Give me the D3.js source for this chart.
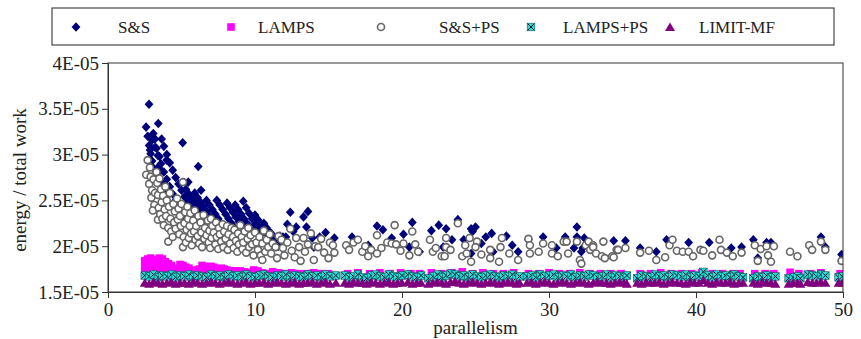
<!DOCTYPE html>
<html>
<head>
<meta charset="utf-8">
<script src="https://cdn.jsdelivr.net/npm/d3@7"></script>
<style>
body { margin: 0; background: #fff; }
text { font-family: "Liberation Serif", "Times New Roman", serif; fill: #222; }
</style>
</head>
<body>
<script>
// values are in units of 1E-06 (energy / total work)
var seriesNames = ["S&S", "LAMPS", "S&S+PS", "LAMPS+PS", "LIMIT-MF"];
var xTicks = [0, 10, 20, 30, 40, 50];
var yTicks = [15, 20, 25, 30, 35, 40];

// S&S (navy diamonds), [parallelism, value]
var ssPoints = [
    [2.59,33.0],[2.79,35.5],[2.7,32.0],[2.8,31.0],[2.86,30.5],[2.9,30.1],[3.0,29.3],[3.08,32.3],[3.1,28.5],[3.2,31.7],[3.2,27.8],[3.42,33.4],
    [3.0,31.6],[3.2,30.8],[3.4,29.9],[3.6,29.0],[3.8,28.1],[4.0,27.3],[4.2,26.5],[4.4,25.7],[4.6,25.0],[4.8,24.3],[5.0,23.7],[5.2,23.2],
    [3.65,31.7],[3.8,30.9],[4.0,30.0],[4.2,29.1],[4.4,28.3],[4.6,27.5],[4.8,26.8],[5.0,26.1],[5.2,25.4],[5.4,24.8],[5.6,24.2],[5.8,23.7],[6.0,23.2],
    [3.3,30.7],[3.5,29.8],[3.99,29.4],[3.4,28.6],[3.6,28.3],[3.7,27.0],[3.9,26.3],[4.1,25.6],
    [5.08,31.3],[5.46,27.0],[6.14,28.7],[6.33,26.1],
    [5.3,26.2],[5.5,25.7],[5.7,25.2],[5.9,24.7],[6.1,24.2],[6.3,23.7],[6.5,23.2],[6.7,22.7],
    [5.9,25.8],[6.1,25.3],[6.3,24.8],[6.5,24.3],[6.7,23.8],[6.9,23.3],[7.1,22.8],[7.3,22.3],
    [6.7,25.0],[6.9,24.5],[7.1,24.0],[7.3,23.5],[7.5,23.0],[7.7,22.5],[7.9,22.0],
    [7.4,25.0],[7.6,24.5],[7.8,24.0],[8.0,23.5],[8.2,23.0],[8.4,22.5],[8.6,22.0],
    [8.1,24.7],[8.3,24.2],[8.5,23.7],[8.7,23.2],[8.9,22.7],[9.1,22.2],[9.3,21.7],
    [8.65,24.5],[8.85,24.0],[9.05,23.5],[9.25,23.0],[9.45,22.5],[9.65,22.0],[9.85,21.5],
    [9.2,24.9],[9.4,24.2],[9.6,23.6],[9.8,23.0],[10.0,22.4],[10.2,21.8],[10.4,21.3],
    [10.0,23.4],[10.2,22.9],[10.4,22.4],[10.6,21.9],[10.8,21.4],[11.0,20.9],
    [10.6,22.5],[10.8,22.0],[11.0,21.5],[11.2,21.0],[11.4,20.5],[11.6,20.0],
    [11.1,21.4],[11.7,21.1],[11.9,21.0],[12.1,21.0],[12.2,22.4],[12.6,21.6],
    [12.4,23.7],[13.3,23.2],[13.6,23.8],[12.8,22.1],[13.5,22.1],[13.9,20.9],[14.4,21.0],[14.8,21.5],[15.4,20.9],[14.0,19.9],
    [16.6,21.0],[17.7,20.1],[18.3,22.2],[18.7,21.8],[19.3,20.9],[20.1,21.3],[20.7,22.6],[20.5,19.9],[21.2,19.4],
    [22.0,21.7],[22.5,22.3],[22.8,19.9],[23.0,21.9],[23.8,22.9],[23.4,20.7],[24.2,20.7],[24.7,21.9],[25.0,22.1],[24.8,21.6],
    [24.7,19.2],[25.4,20.3],[25.7,21.0],[26.1,21.4],[26.2,19.4],[27.1,21.1],[27.5,20.1],[27.9,19.4],[28.6,20.7],[29.6,21.0],
    [30.5,19.8],[31.1,21.0],[31.7,19.8],[31.9,22.1],[31.9,21.0],[32.3,19.8],[32.4,20.9],[32.2,19.4],[34.4,20.6],[35.2,20.6],
    [36.2,19.8],[37.3,19.4],[38.0,20.7],[39.5,20.4],[40.9,20.4],[42.4,19.8],[43.1,19.9],[43.9,20.7],[44.2,18.7],[44.8,20.4],
    [45.1,20.4],[48.5,21.0],[48.8,19.9],[49.9,19.1]
];

// LAMPS (magenta squares)
var lampsPoints = [
    [2.5,18.4],[2.5,17.8],[2.5,17.3],[2.7,18.6],[2.7,18.0],[2.7,17.4],[2.9,18.7],[2.9,18.1],[2.9,17.5],
    [3.1,18.5],[3.1,17.9],[3.1,17.3],[3.3,18.3],[3.3,17.7],[3.5,18.7],[3.5,18.1],[3.5,17.5],[3.7,18.6],[3.7,18.0],[3.7,17.4],
    [3.9,18.3],[3.9,17.7],[4.1,18.1],[4.1,17.5],[4.3,17.9],[4.3,17.4],[4.5,17.6],[4.7,17.5],[4.9,18.0],[4.9,17.4],
    [5.1,17.9],[5.1,17.4],[5.3,17.7],[5.5,17.6],[5.7,17.4],[5.9,17.3],[6.2,17.5],[6.4,17.9],[6.4,17.4],[6.6,17.8],[6.6,17.3],
    [6.8,17.6],[7.0,17.8],[7.0,17.3],[7.2,17.7],[7.4,17.5],[7.7,17.6],[7.9,17.5],[8.1,17.4],[8.4,17.3],[8.7,17.3],
    [9.0,17.3],[9.3,17.2],[9.6,17.1],[9.9,17.4],[10.2,17.3],[10.5,17.1],[10.8,17.0],[11.2,17.2],[11.6,17.1],[12.0,17.0],
    [12.5,17.1],[13.0,17.0],[13.5,17.0],[14.0,17.1],[14.5,17.0],[15.0,17.0],
    [16.3,17.0],[17.0,17.1],[17.8,17.0],[18.5,17.1],[19.2,17.0],[19.9,17.1],[20.6,17.0],[21.2,17.0],[22.0,17.1],[22.7,17.0],
    [23.4,17.1],[24.1,17.2],[24.8,17.0],[25.5,17.1],[26.2,17.0],[26.9,17.0],[27.6,17.1],[28.6,17.0],[29.3,17.0],[30.0,17.1],
    [30.7,17.0],[31.4,17.0],[32.1,17.1],[32.8,17.0],[33.5,17.0],[34.2,17.0],[34.9,17.0],[36.2,17.0],[36.9,17.0],[37.6,17.1],
    [38.3,17.0],[39.0,17.0],[39.7,17.0],[40.4,17.1],[41.1,17.0],[41.8,17.0],[42.5,17.0],[43.0,17.0],[44.0,17.0],[44.7,17.0],
    [45.3,17.0],[46.4,17.15],[47.0,17.0],[47.8,17.0],[48.5,17.1],[49.8,17.0]
];

// S&S+PS (open circles)
var ssPsPoints = [
    [2.6,27.8],[2.7,29.4],[2.85,28.6],[2.9,27.6],[2.8,26.8],[3.0,26.1],[2.95,25.3],[3.1,27.3],[3.15,24.5],[3.2,25.8],[3.05,23.9],
    [3.3,28.1],[3.35,26.9],[3.4,25.6],[3.45,24.2],[3.4,22.9],[3.5,27.4],[3.55,23.5],[3.6,26.2],[3.65,24.8],[3.7,23.0],[3.75,25.5],
    [3.8,22.3],[3.85,24.0],[3.9,26.5],[3.95,23.3],[4.0,25.0],
    [4.1,20.5],[4.1,22.0],[4.15,24.3],[4.2,25.8],[4.25,23.0],[4.3,21.6],[4.4,21.0],[4.45,24.6],[4.5,22.6],[4.55,23.8],[4.6,21.9],
    [4.7,25.2],[4.75,22.9],[4.8,24.1],[4.85,21.3],[4.9,23.3],[4.95,22.2],[5.0,24.6],
    [5.1,19.9],[5.1,27.0],[5.15,21.0],[5.2,22.5],[5.25,23.7],[5.3,20.4],[5.35,21.8],[5.4,24.3],[5.45,23.0],[5.5,20.9],[5.55,22.2],
    [5.6,23.6],[5.65,21.4],[5.7,20.1],[5.8,22.8],[5.85,21.6],[5.9,23.9],[5.95,20.7],
    [6.0,22.2],[6.1,21.1],[6.15,23.3],[6.2,20.3],[6.3,22.6],[6.35,21.5],[6.4,19.9],[6.5,23.4],[6.55,20.8],[6.6,22.0],[6.7,21.2],
    [6.8,22.8],[6.85,20.4],[6.9,21.7],[6.95,19.8],
    [7.0,23.0],[7.05,20.9],[7.1,22.2],[7.2,21.5],[7.3,20.2],[7.35,22.6],[7.4,21.0],[7.5,19.7],[7.55,22.0],[7.6,21.3],[7.7,20.5],
    [7.8,22.4],[7.85,19.9],[7.9,21.6],
    [8.0,20.8],[8.1,22.2],[8.15,19.6],[8.2,21.3],[8.3,20.3],[8.4,22.0],[8.5,21.0],[8.55,19.8],[8.6,21.8],[8.7,20.6],[8.8,19.4],
    [8.85,21.4],[8.9,20.2],[9.0,22.3],
    [9.1,21.0],[9.15,19.7],[9.2,20.4],[9.3,21.6],[9.4,19.3],[9.5,20.8],[9.55,22.0],[9.6,19.9],[9.7,21.2],[9.8,20.2],[9.9,19.0],[10.0,21.5],
    [10.1,20.4],[10.2,19.6],[10.3,21.0],[10.4,19.0],[10.5,18.5],[10.5,20.3],[10.6,21.7],[10.7,19.4],[10.8,20.7],[10.9,19.9],[11.0,21.3],
    [11.1,19.2],[11.2,20.3],[11.4,19.9],[11.5,18.7],[11.6,21.1],[11.8,20.7],[11.9,19.8],[12.0,19.0],[12.2,20.4],[12.4,21.9],
    [12.5,19.5],[12.7,18.8],[12.8,20.9],[13.0,19.9],[13.1,18.4],[13.3,20.9],[13.4,19.4],[13.6,20.2],[13.8,21.4],[14.0,18.5],
    [14.1,20.0],[14.3,19.9],[14.5,20.8],[14.7,19.3],[15.0,18.7],[15.1,20.4],[15.3,20.1],[15.4,19.3],
    [16.2,20.1],[16.4,19.6],[16.7,20.4],[17.0,20.7],[17.3,19.4],[17.5,20.0],[17.7,18.9],[17.9,19.6],[18.3,21.2],[18.3,19.2],
    [18.6,19.8],[19.0,20.4],[19.3,20.3],[19.5,22.3],[19.6,20.2],[19.9,19.5],[20.1,20.3],[20.5,19.0],[20.7,21.6],[20.9,20.2],
    [21.1,19.4],[21.9,20.7],[22.1,19.4],[22.3,19.8],[22.7,18.9],[23.0,19.9],[23.0,20.9],[23.8,22.5],[23.3,19.6],[22.9,18.9],
    [24.3,20.1],[24.1,18.9],[24.4,19.2],[24.7,18.3],[24.6,20.9],[25.1,20.5],[25.0,19.9],[25.4,19.1],[26.0,19.6],[26.0,18.7],
    [26.6,18.3],[26.8,20.9],[26.7,19.9],[27.3,19.2],[27.9,18.5],[28.6,20.8],[28.7,20.1],[28.7,19.2],[29.3,19.4],[29.6,20.3],
    [30.2,20.1],[30.2,19.2],[30.6,18.9],[31.0,20.5],[31.2,20.5],[31.3,19.2],[31.9,20.5],[32.1,18.5],[32.2,18.1],[32.5,20.1],
    [32.7,20.5],[32.8,19.6],[33.0,20.1],[33.0,19.9],[33.2,19.2],[33.7,20.5],[33.6,18.9],[33.8,18.7],[34.3,18.9],[34.4,18.8],
    [34.6,19.6],[34.7,19.6],[35.2,19.8],[36.2,19.3],[36.8,19.5],[37.3,18.5],[37.9,18.8],[38.2,20.1],[38.4,20.7],[38.7,19.5],
    [39.1,19.4],[39.5,19.4],[39.8,18.9],[40.3,19.6],[40.5,19.5],[41.1,19.0],[41.6,20.7],[41.7,19.6],[42.1,19.3],[42.5,18.9],
    [43.1,19.3],[44.0,20.1],[44.2,18.4],[44.4,19.7],[44.8,20.0],[44.9,19.0],[45.1,18.3],[45.3,20.0],[46.4,19.4],[46.9,18.9],
    [47.7,20.1],[47.9,19.6],[48.5,20.5],[48.8,19.6],[49.9,18.4]
];

// LAMPS+PS and LIMIT-MF share these parallelism values
var bandX = [
    2.5,2.8,3.1,3.4,3.7,4.0,4.3,4.6,4.9,5.2,
    5.5,5.8,6.1,6.4,6.7,7.0,7.3,7.6,7.9,8.2,
    8.5,8.8,9.1,9.4,9.7,10.0,10.3,10.6,10.9,11.2,
    11.5,11.8,12.1,12.4,12.7,13.0,13.3,13.6,13.9,14.2,
    14.5,14.8,15.1,15.5,
    16.1,16.4,16.7,17.0,17.3,17.6,17.9,18.2,18.5,18.8,
    19.1,19.4,19.7,20.0,20.4,20.7,21.0,21.3,
    21.8,22.1,22.4,22.7,23.0,23.3,23.6,23.9,24.2,24.5,
    24.8,25.1,25.4,25.7,26.0,26.3,26.6,26.9,27.2,27.5,
    27.8,28.0,
    28.5,28.8,29.1,29.4,29.7,30.0,30.3,30.6,30.9,31.2,
    31.5,31.8,32.1,32.4,32.7,33.0,33.3,33.6,33.9,34.2,
    34.5,34.8,35.1,35.3,
    36.0,36.3,36.6,36.9,37.2,37.5,37.8,38.1,38.4,38.7,
    39.0,39.3,39.6,39.9,40.2,40.5,40.8,41.1,41.4,41.7,
    42.0,42.3,42.6,42.9,43.2,
    43.9,44.2,44.5,44.8,45.1,45.4,
    46.3,46.6,46.9,47.1,
    47.6,47.9,48.2,48.5,48.8,
    49.7,49.95
];
var lampsPsY = [
    16.8,16.7,16.9,16.6,16.8,16.7,16.9,16.6,16.8,16.7,
    16.9,16.6,16.8,16.7,16.6,16.9,16.7,16.8,16.6,16.9,
    16.7,16.8,16.6,16.9,16.7,16.6,16.8,16.9,16.7,16.6,
    16.8,16.7,16.9,16.6,16.8,16.7,16.6,16.9,16.7,16.8,
    16.6,16.9,16.7,16.8,
    16.8,16.6,16.7,16.9,16.6,16.5,16.8,16.9,16.7,16.6,
    16.9,16.7,16.6,16.8,16.9,16.7,16.6,16.8,
    16.5,16.7,16.9,16.6,16.8,17.0,16.9,16.7,16.8,16.6,
    16.9,16.7,16.6,16.8,16.9,16.7,16.6,16.8,16.7,16.9,
    16.6,16.7,
    16.7,16.8,16.6,16.9,16.7,16.8,16.9,16.6,16.8,16.7,
    16.9,16.6,16.8,16.7,16.9,16.8,16.6,16.7,16.9,16.6,
    16.8,16.7,16.6,16.8,
    16.5,16.8,16.7,16.6,16.9,16.7,16.8,16.6,16.9,16.8,
    16.7,16.9,16.6,16.8,16.7,17.2,16.8,16.6,16.9,16.7,
    16.8,16.6,16.9,16.7,16.6,
    16.5,16.7,16.6,16.8,16.6,16.7,
    16.5,16.6,16.7,16.5,
    16.9,16.8,16.7,16.9,16.8,
    16.6,16.7
];
var limitY = [
    16.0,15.9,16.1,16.0,15.9,16.0,16.1,15.9,16.0,16.0,
    15.9,16.1,16.0,15.9,16.0,16.1,16.0,15.9,16.0,16.1,
    16.0,15.9,16.0,16.1,15.9,16.0,16.0,16.1,15.9,16.0,
    16.1,16.0,15.9,16.0,16.1,15.9,16.0,16.0,16.1,15.9,
    16.0,16.1,15.9,16.0,
    16.0,15.9,16.1,16.0,16.0,15.9,16.1,16.0,15.9,16.0,
    16.1,15.9,16.0,16.0,16.1,15.9,16.0,16.0,
    15.9,16.0,16.1,16.0,15.9,16.1,16.2,16.0,15.9,16.0,
    16.1,16.0,15.9,16.0,16.1,16.0,15.9,16.0,16.1,16.0,
    15.9,16.0,
    16.0,16.1,15.9,16.0,16.1,16.0,15.9,16.0,16.1,16.0,
    15.9,16.0,16.1,16.0,15.9,16.0,16.1,16.0,16.0,15.9,
    16.0,16.1,16.0,15.9,
    16.0,15.9,16.1,16.0,16.0,16.1,15.9,16.0,16.1,16.0,
    16.0,15.9,16.1,16.0,16.0,16.3,16.0,15.9,16.1,16.0,
    16.0,16.1,15.9,16.0,16.0,
    16.0,15.9,16.1,16.0,16.0,15.9,
    15.9,16.0,16.0,15.9,
    16.1,16.0,16.0,16.1,16.0,
    16.0,16.0
];

var width = 861, height = 339;
var plotLeft = 108, plotRight = 843, plotTop = 63, plotBottom = 292;

var svg = d3.select("body").append("svg")
    .attr("width", width)
    .attr("height", height);

var x = d3.scaleLinear().domain([0, 50]).range([plotLeft, plotRight]);
var y = d3.scaleLinear().domain([15, 40]).range([plotBottom, plotTop]);

svg.append("clipPath").attr("id", "plotclip")
    .append("rect")
    .attr("x", plotLeft).attr("y", plotTop)
    .attr("width", plotRight - plotLeft).attr("height", plotBottom - plotTop);

// marker shapes
function addMarker(g, kind) {
    if (kind === 0) {
        g.append("path").attr("d", "M0,-4.8L4.4,0L0,4.8L-4.4,0Z").attr("fill", "#00007a");
    } else if (kind === 1) {
        g.append("rect").attr("x", -3.8).attr("y", -3.8).attr("width", 7.6).attr("height", 7.6)
            .attr("fill", "#ff00ff");
    } else if (kind === 2) {
        g.append("circle").attr("r", 3.5).attr("fill", "#fff")
            .attr("stroke", "#666").attr("stroke-width", 1.6);
    } else if (kind === 3) {
        g.append("rect").attr("x", -3.8).attr("y", -3.8).attr("width", 7.6).attr("height", 7.6)
            .attr("fill", "#22dede").attr("stroke", "#115555").attr("stroke-width", 0.6);
        g.append("path").attr("d", "M-3.2,-3.2L3.2,3.2M3.2,-3.2L-3.2,3.2")
            .attr("stroke", "#111").attr("stroke-width", 1);
    } else {
        g.append("path").attr("d", "M0,-4.6L5,4L-5,4Z").attr("fill", "#7f007f");
    }
}

var plot = svg.append("g").attr("clip-path", "url(#plotclip)");

var allSeries = [
    ssPoints,
    lampsPoints,
    ssPsPoints,
    d3.zip(bandX, lampsPsY),
    d3.zip(bandX, limitY)
];

allSeries.forEach(function(points, i) {
    plot.append("g")
        .selectAll("g")
        .data(points)
        .enter()
        .append("g")
        .attr("transform", function(d) {
            return "translate(" + x(d[0]) + "," + y(d[1]) + ")";
        })
        .each(function() {
            addMarker(d3.select(this), i);
        });
});

// frame
svg.append("rect")
    .attr("x", plotLeft).attr("y", plotTop)
    .attr("width", plotRight - plotLeft).attr("height", plotBottom - plotTop)
    .attr("fill", "none").attr("stroke", "#333").attr("stroke-width", 1);

var xAxis = svg.append("g")
    .attr("transform", "translate(0," + plotBottom + ")")
    .call(d3.axisBottom(x).tickValues(xTicks).tickSize(6).tickPadding(5));
var yAxis = svg.append("g")
    .attr("transform", "translate(" + plotLeft + ",0)")
    .call(d3.axisLeft(y).tickValues(yTicks).tickSize(6).tickPadding(3)
        .tickFormat(function(d) { return (d / 10) + "E-05"; }));

[xAxis, yAxis].forEach(function(a) {
    a.attr("font-family", null);
    a.selectAll("path").attr("stroke", "#333");
    a.selectAll("line").attr("stroke", "#333");
    a.selectAll("text")
        .style("font-family", "'Liberation Serif', serif")
        .style("font-size", "19px")
        .attr("fill", "#222");
});

svg.append("text")
    .attr("x", (plotLeft + plotRight) / 2)
    .attr("y", 334)
    .attr("text-anchor", "middle")
    .style("font-size", "19px")
    .text("parallelism");

svg.append("text")
    .attr("transform", "translate(26,180) rotate(-90)")
    .attr("text-anchor", "middle")
    .style("font-size", "19px")
    .text("energy / total work");

// legend
svg.append("rect")
    .attr("x", 52).attr("y", 8)
    .attr("width", 782).attr("height", 37)
    .attr("fill", "none").attr("stroke", "#222").attr("stroke-width", 1);

var legendMarkX = [76, 231, 381, 531, 670];
var legendTextX = [118, 258, 439, 563, 699];

seriesNames.forEach(function(name, i) {
    var g = svg.append("g").attr("transform", "translate(" + legendMarkX[i] + ",27)");
    addMarker(g, i);
    svg.append("text")
        .attr("x", legendTextX[i])
        .attr("y", 33)
        .style("font-size", "17px")
        .text(name);
});
</script>
</body>
</html>
